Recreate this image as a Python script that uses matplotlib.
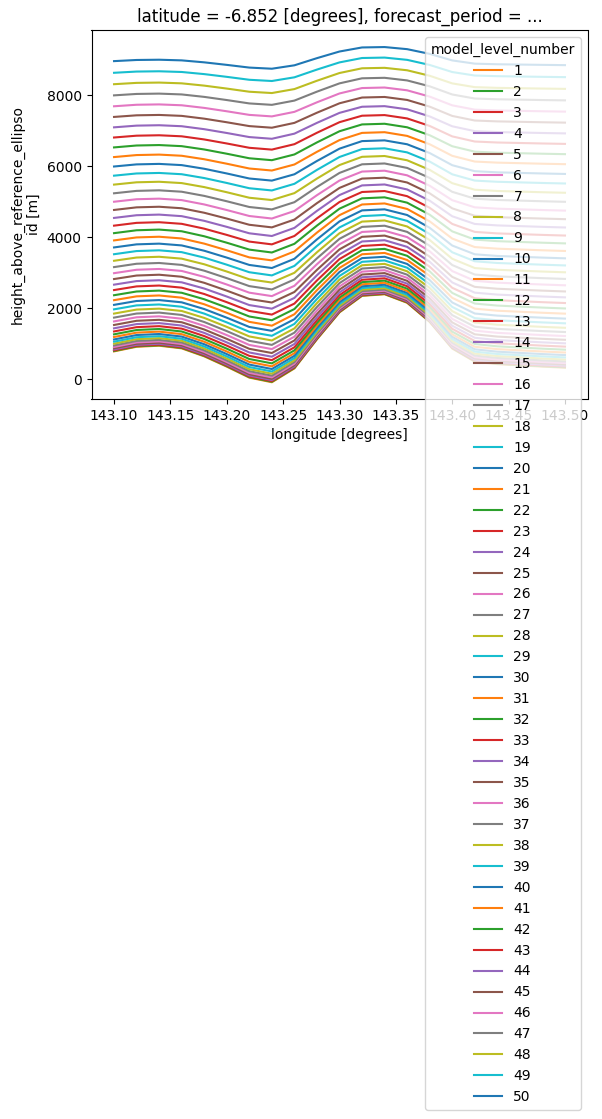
import matplotlib
matplotlib.use("Agg")
import matplotlib.pyplot as plt
import numpy as np

# longitudes of the cross-section [degrees]
longitude = [143.10, 143.12, 143.14, 143.16, 143.18, 143.20, 143.22,
             143.24, 143.26, 143.28, 143.30, 143.32, 143.34, 143.36,
             143.38, 143.40, 143.42, 143.44, 143.46, 143.48, 143.50]

# surface altitude along the section [m]
orography = [780, 910, 940, 865, 640, 350, 40,
             -90, 300, 1120, 1880, 2345, 2390, 2150,
             1610, 860, 490, 420, 385, 350, 320]

model_level_number = list(range(1, 51))

# hybrid height coefficients per level: z = level_height + sigma * orography
level_height = [6.5, 19.9, 40.2, 67.4, 101.5, 142.5, 190.3, 245.1, 306.8, 375.3,
                450.8, 533.1, 622.3, 718.5, 821.5, 931.4, 1048.2, 1171.9, 1302.5, 1440.0,
                1584.4, 1735.7, 1893.9, 2058.9, 2230.9, 2409.8, 2595.5, 2788.1, 2987.7, 3194.1,
                3407.4, 3627.6, 3854.8, 4088.8, 4329.7, 4577.5, 4832.2, 5093.8, 5362.3, 5637.6,
                5919.9, 6209.0, 6505.1, 6808.0, 7117.9, 7434.7, 7758.3, 8088.8, 8426.2, 8770.5]
sigma = [0.9993, 0.9977, 0.9954, 0.9923, 0.9884, 0.9837, 0.9782, 0.9720, 0.9651, 0.9573,
         0.9489, 0.9397, 0.9298, 0.9191, 0.9078, 0.8958, 0.8832, 0.8698, 0.8559, 0.8413,
         0.8262, 0.8105, 0.7942, 0.7774, 0.7600, 0.7422, 0.7239, 0.7052, 0.6861, 0.6666,
         0.6467, 0.6265, 0.6060, 0.5852, 0.5643, 0.5431, 0.5217, 0.5002, 0.4786, 0.4570,
         0.4353, 0.4137, 0.3921, 0.3706, 0.3492, 0.3280, 0.3071, 0.2864, 0.2660, 0.2460]

fig = plt.figure(figsize=(6.02, 11.19), dpi=100)
ax = fig.add_axes([91.5 / 602, 1 - 399 / 1119, 496 / 602, 368.7 / 1119])

orog = np.array(orography)
for lev, h, s in zip(model_level_number, level_height, sigma):
    ax.plot(longitude, h + s * orog, color="C%d" % (lev % 10), label=str(lev))

ax.set_xlabel("longitude [degrees]")
ax.set_ylabel("height_above_reference_ellipso\nid [m]")
ax.set_title("latitude = -6.852 [degrees], forecast_period = ...")
ax.legend(title="model_level_number", loc="upper right")

fig.savefig("out.png", dpi=100)
